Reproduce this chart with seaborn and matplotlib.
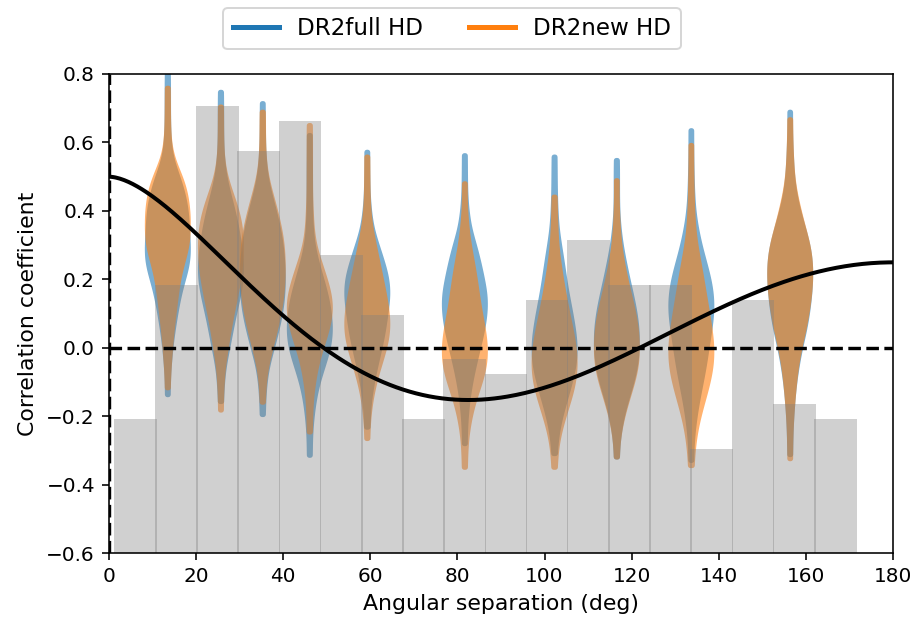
import numpy as np
import pandas as pd
import matplotlib
matplotlib.use("Agg")
import matplotlib.pyplot as plt
from matplotlib.lines import Line2D
import seaborn as sns

# ---------------------------------------------------------------- data
series_names = ["DR2full HD", "DR2new HD"]
series_colors = ["C0", "C1"]

# angular bin centres where the correlation posteriors are shown (deg)
positions = [13.4, 25.6, 35.2, 46.0, 59.2, 81.6, 102.2, 116.5, 133.6, 156.3]

# posterior samples per bin: sample values and how many times each occurs
full_vals = [
    [-0.135, -0.05, 0.0, 0.05, 0.1, 0.15, 0.2, 0.25, 0.3, 0.35, 0.4, 0.45, 0.5, 0.55, 0.6, 0.65, 0.7, 0.75, 0.8],
    [-0.155, -0.1, -0.05, 0.0, 0.05, 0.1, 0.15, 0.2, 0.25, 0.3, 0.35, 0.4, 0.45, 0.5, 0.55, 0.6, 0.65, 0.7, 0.748],
    [-0.193, -0.15, -0.1, -0.05, 0.0, 0.05, 0.1, 0.15, 0.2, 0.25, 0.3, 0.35, 0.4, 0.45, 0.5, 0.55, 0.6, 0.65, 0.715],
    [-0.312, -0.25, -0.2, -0.15, -0.1, -0.05, 0.0, 0.05, 0.1, 0.15, 0.2, 0.25, 0.3, 0.35, 0.4, 0.45, 0.5, 0.55, 0.622],
    [-0.23, -0.2, -0.15, -0.1, -0.05, 0.0, 0.05, 0.1, 0.15, 0.2, 0.25, 0.3, 0.35, 0.4, 0.45, 0.5, 0.573],
    [-0.278, -0.2, -0.15, -0.1, -0.05, 0.0, 0.05, 0.1, 0.15, 0.2, 0.25, 0.3, 0.35, 0.4, 0.45, 0.5, 0.563],
    [-0.307, -0.25, -0.2, -0.15, -0.1, -0.05, 0.0, 0.05, 0.1, 0.15, 0.2, 0.25, 0.3, 0.35, 0.4, 0.45, 0.5, 0.559],
    [-0.317, -0.25, -0.2, -0.15, -0.1, -0.05, 0.0, 0.05, 0.1, 0.15, 0.2, 0.25, 0.3, 0.35, 0.4, 0.45, 0.5, 0.549],
    [-0.327, -0.25, -0.2, -0.15, -0.1, -0.05, 0.0, 0.05, 0.1, 0.15, 0.2, 0.25, 0.3, 0.35, 0.4, 0.45, 0.5, 0.55, 0.636],
    [-0.31, -0.25, -0.2, -0.15, -0.1, -0.05, 0.0, 0.05, 0.1, 0.15, 0.2, 0.25, 0.3, 0.35, 0.4, 0.45, 0.5, 0.55, 0.6, 0.69],
]
full_counts = [
    [1, 2, 4, 7, 11, 15, 21, 30, 29, 27, 27, 22, 15, 4, 2, 1, 1, 1, 1],
    [1, 2, 4, 10, 14, 19, 25, 30, 30, 27, 23, 18, 11, 5, 2, 1, 1, 1, 1],
    [1, 1, 3, 6, 14, 20, 26, 29, 30, 29, 27, 23, 17, 10, 4, 2, 1, 1, 1],
    [1, 1, 3, 6, 11, 19, 27, 30, 28, 24, 17, 10, 4, 2, 1, 1, 1, 1, 1],
    [1, 1, 3, 7, 12, 18, 23, 26, 30, 29, 22, 14, 6, 3, 1, 1, 1],
    [1, 2, 4, 8, 13, 19, 25, 29, 30, 25, 20, 14, 6, 3, 1, 1, 1],
    [1, 3, 8, 15, 22, 28, 30, 27, 23, 18, 14, 11, 7, 3, 2, 1, 1, 1],
    [1, 3, 7, 14, 22, 28, 30, 30, 27, 22, 16, 11, 6, 3, 1, 1, 1, 1],
    [1, 2, 5, 9, 14, 19, 22, 26, 30, 30, 26, 19, 12, 7, 3, 2, 1, 1, 1],
    [1, 1, 2, 4, 6, 10, 14, 21, 25, 28, 30, 30, 27, 19, 12, 6, 3, 2, 1, 1],
]
new_vals = [
    [-0.115, -0.05, 0.0, 0.05, 0.1, 0.15, 0.2, 0.25, 0.3, 0.35, 0.4, 0.45, 0.5, 0.55, 0.6, 0.65, 0.7, 0.76],
    [-0.18, -0.1, -0.05, 0.0, 0.05, 0.1, 0.15, 0.2, 0.25, 0.3, 0.35, 0.4, 0.45, 0.5, 0.55, 0.6, 0.65, 0.705],
    [-0.157, -0.1, -0.05, 0.0, 0.05, 0.1, 0.15, 0.2, 0.25, 0.3, 0.35, 0.4, 0.45, 0.5, 0.55, 0.6, 0.65, 0.69],
    [-0.244, -0.2, -0.15, -0.1, -0.05, 0.0, 0.05, 0.1, 0.15, 0.2, 0.25, 0.3, 0.35, 0.4, 0.45, 0.5, 0.55, 0.6, 0.651],
    [-0.263, -0.2, -0.15, -0.1, -0.05, 0.0, 0.05, 0.1, 0.15, 0.2, 0.25, 0.3, 0.35, 0.4, 0.45, 0.5, 0.559],
    [-0.347, -0.3, -0.25, -0.2, -0.15, -0.1, -0.05, 0.0, 0.05, 0.1, 0.15, 0.2, 0.25, 0.3, 0.35, 0.4, 0.481],
    [-0.347, -0.3, -0.25, -0.2, -0.15, -0.1, -0.05, 0.0, 0.05, 0.1, 0.15, 0.2, 0.25, 0.3, 0.35, 0.4, 0.442],
    [-0.317, -0.25, -0.2, -0.15, -0.1, -0.05, 0.0, 0.05, 0.1, 0.15, 0.2, 0.25, 0.3, 0.35, 0.4, 0.49],
    [-0.342, -0.3, -0.25, -0.2, -0.15, -0.1, -0.05, 0.0, 0.05, 0.1, 0.15, 0.2, 0.25, 0.3, 0.35, 0.4, 0.45, 0.5, 0.593],
    [-0.322, -0.25, -0.2, -0.15, -0.1, -0.05, 0.0, 0.05, 0.1, 0.15, 0.2, 0.25, 0.3, 0.35, 0.4, 0.45, 0.5, 0.55, 0.6, 0.668],
]
new_counts = [
    [1, 2, 4, 6, 9, 12, 15, 21, 30, 30, 30, 27, 20, 6, 2, 1, 1, 1],
    [1, 2, 3, 8, 11, 16, 21, 26, 29, 30, 29, 24, 15, 6, 2, 1, 1, 1],
    [1, 2, 5, 12, 18, 24, 28, 30, 30, 29, 25, 19, 12, 5, 2, 1, 1, 1],
    [1, 1, 2, 5, 9, 16, 24, 30, 29, 22, 14, 6, 3, 2, 1, 1, 1, 1, 1],
    [1, 2, 5, 10, 17, 25, 30, 29, 25, 20, 15, 10, 5, 2, 1, 1, 1],
    [1, 1, 3, 7, 13, 22, 29, 30, 27, 22, 18, 15, 11, 6, 3, 1, 1],
    [1, 2, 6, 13, 21, 28, 30, 29, 24, 19, 14, 10, 6, 3, 2, 1, 1],
    [1, 3, 8, 15, 23, 29, 30, 29, 25, 19, 13, 8, 4, 2, 1, 1],
    [1, 2, 5, 10, 17, 24, 29, 30, 27, 23, 19, 15, 11, 6, 3, 2, 1, 1, 1],
    [1, 1, 2, 4, 6, 9, 13, 20, 24, 28, 30, 30, 27, 19, 13, 7, 3, 2, 1, 1],
]

# pulsar-pair separation histogram (pairs per bin)
sep_range = (1.15, 171.3)
pair_counts = [9, 18, 30, 27, 29, 20, 16, 9, 13, 12, 17, 21, 18, 18, 7, 17, 10, 9]
hist_scale = 0.04357     # height of one pair in correlation units
hist_base = -0.6

# ---------------------------------------------------------------- helpers
class GroupAlpha:
    """Fade an artist as a whole so fill and outline share one alpha."""

    def __init__(self, alpha):
        self.alpha = alpha

    def __call__(self, im, dpi):
        out = im.copy()
        out[..., 3] *= self.alpha
        return out, 0, 0


def hellings_downs(theta_deg):
    x = (1.0 - np.cos(np.radians(theta_deg))) / 2.0
    with np.errstate(divide="ignore", invalid="ignore"):
        xlogx = np.where(x > 0, x * np.log(x), 0.0)
    return 0.5 - 0.25 * x + 1.5 * xlogx


# ---------------------------------------------------------------- figure
fig = plt.figure(figsize=(918 / 144, 620 / 144), dpi=144)
ax = fig.add_axes([0.1187, 0.1073, 0.854, 0.7734])

frames = []
for name, vals_list, cnt_list in [(series_names[0], full_vals, full_counts),
                                  (series_names[1], new_vals, new_counts)]:
    for pos, v, c in zip(positions, vals_list, cnt_list):
        frames.append(pd.DataFrame({"sep": pos,
                                    "corr": np.repeat(v, c),
                                    "dataset": name}))
df = pd.concat(frames, ignore_index=True)

sns.violinplot(data=df, x="sep", y="corr", hue="dataset",
               hue_order=series_names,
               palette=dict(zip(series_names, series_colors)),
               native_scale=True, orient="x", dodge=False,
               density_norm="width", cut=0, inner=None,
               bw_method=0.28, gridsize=200, width=0.98,
               linewidth=2.5, saturation=1, legend=False, ax=ax)

for coll in ax.collections:
    fc = coll.get_facecolor()[0]
    coll.set_edgecolor(fc)
    coll.set_joinstyle("round")
    coll.set_capstyle("round")
    coll.set_agg_filter(GroupAlpha(0.775))
    coll.set_zorder(1)

# separation histogram drawn over the violins
edges = np.linspace(sep_range[0], sep_range[1], len(pair_counts) + 1)
bin_w = edges[1] - edges[0]
heights = np.array(pair_counts) * hist_scale
ax.bar(edges[:-1], heights, width=bin_w * 1.04, bottom=hist_base,
       align="edge", color=(0.5, 0.5, 0.5, 0.37), linewidth=0, zorder=2)

# Hellings-Downs expectation
theta = np.linspace(0, 180, 361)
sns.lineplot(x=theta, y=hellings_downs(theta), color="k", lw=2,
             ax=ax, zorder=3, legend=False)

ax.axhline(0, color="k", ls="--", lw=1.7, zorder=3)
ax.axvline(0, color="k", ls="--", lw=1.7, zorder=3)

ax.set_xlim(0, 180)
ax.set_ylim(-0.6, 0.8)
ax.set_xticks(np.arange(0, 181, 20))
ax.set_yticks(np.arange(-0.6, 0.81, 0.2))
ax.tick_params(labelsize=10)
ax.set_xlabel("Angular separation (deg)", fontsize=11)
ax.set_ylabel("Correlation coefficient", fontsize=11)

handles = [Line2D([], [], color=c, lw=2.5) for c in series_colors]
fig.legend(handles, series_names, loc="upper center",
           bbox_to_anchor=(0.4924, 0.987), borderaxespad=0,
           ncol=2, fontsize=11.5)

fig.savefig("out.png", dpi=144)
